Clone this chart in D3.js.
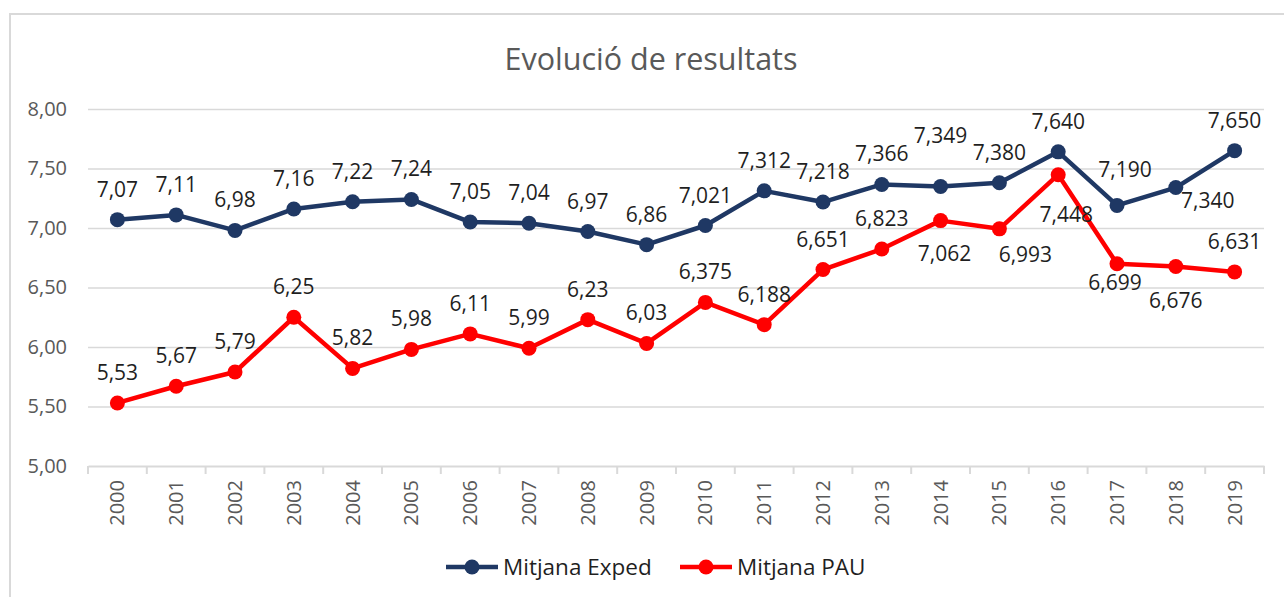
<!DOCTYPE html>
<html>
  <head>
    <meta charset="utf-8" />
    <title>Evolució de resultats</title>
    <script src="https://d3js.org/d3.v7.min.js"></script>
    <style>
      body { margin: 0; background: #fff; }
      svg { display: block; font-family: "Open Sans", sans-serif; }
    </style>
  </head>
  <body>
    <svg width="1284" height="597"></svg>
    <script>
      const years = ["2000","2001","2002","2003","2004","2005","2006","2007","2008","2009",
                     "2010","2011","2012","2013","2014","2015","2016","2017","2018","2019"];
      const exped = [7.07, 7.11, 6.98, 7.16, 7.22, 7.24, 7.05, 7.04, 6.97, 6.86,
                     7.021, 7.312, 7.218, 7.366, 7.349, 7.380, 7.640, 7.190, 7.340, 7.650];
      const pau = [5.53, 5.67, 5.79, 6.25, 5.82, 5.98, 6.11, 5.99, 6.23, 6.03,
                   6.375, 6.188, 6.651, 6.823, 7.062, 6.993, 7.448, 6.699, 6.676, 6.631];
      const yTicks = [5, 5.5, 6, 6.5, 7, 7.5, 8];

      const series = [
        { name: "Mitjana Exped", key: "exped", values: exped, color: "#1f3864" },
        { name: "Mitjana PAU", key: "pau", values: pau, color: "#ff0000" }
      ];

      // label offsets where the default "above" spot was moved
      const labelNudge = {
        "exped-2014": [0, -43],
        "exped-2017": [8, -28],
        "exped-2018": [32, 20],
        "pau-2014": [4, 40],
        "pau-2015": [26, 33],
        "pau-2016": [8, 47],
        "pau-2017": [-2, 26],
        "pau-2018": [0, 41]
      };

      const svg = d3.select("svg");
      const comma = s => s.replace(".", ",");

      // outer frame
      svg.append("rect")
        .attr("x", 10).attr("y", 14)
        .attr("width", 1300).attr("height", 620)
        .attr("fill", "none").attr("stroke", "#d9d9d9").attr("stroke-width", 2);

      const x = d3.scaleBand().domain(years).range([88, 1264]).padding(0);
      const y = d3.scaleLinear().domain([5, 8]).range([466, 109]);
      const cx = d => x(d) + x.bandwidth() / 2;

      // title
      svg.append("text")
        .attr("x", 651).attr("y", 70)
        .attr("text-anchor", "middle")
        .attr("font-size", 30.5)
        .attr("fill", "#595959")
        .text("Evolució de resultats");

      // grid
      const grid = svg.append("g").attr("transform", "translate(88,0)")
        .call(d3.axisLeft(y).tickValues(yTicks.filter(v => v > 5)).tickSize(-1176).tickFormat(""));
      grid.select(".domain").remove();
      grid.selectAll("line").attr("stroke", "#d9d9d9").attr("stroke-width", 1.5);

      // y axis labels
      const yAxis = svg.append("g").attr("transform", "translate(88,0)")
        .call(d3.axisLeft(y).tickValues(yTicks).tickSize(0).tickPadding(21)
          .tickFormat(d => comma(d3.format(".2f")(d))));
      yAxis.select(".domain").remove();
      yAxis.selectAll("text").attr("font-size", 20).attr("fill", "#595959")
        .attr("font-family", "Open Sans");

      // x axis
      const xAxis = svg.append("g").attr("transform", "translate(0,466)")
        .call(d3.axisBottom(x).tickSize(0).tickPadding(0));
      xAxis.select(".domain").attr("stroke", "#d9d9d9").attr("stroke-width", 2);
      xAxis.selectAll("text")
        .attr("font-size", 20).attr("fill", "#595959").attr("font-family", "Open Sans")
        .attr("transform", "rotate(-90)")
        .attr("text-anchor", "end")
        .attr("x", -14).attr("y", 0).attr("dy", "0.35em");
      svg.append("g").selectAll("line")
        .data(years.map(d => x(d)).concat([x.range()[1]]))
        .join("line")
        .attr("x1", d => d).attr("x2", d => d)
        .attr("y1", 466).attr("y2", 474)
        .attr("stroke", "#d9d9d9").attr("stroke-width", 2);

      // lines and markers
      const line = d3.line().x(d => cx(d.year)).y(d => y(d.value));
      series.forEach(s => {
        const pts = years.map((yr, i) => ({ year: yr, value: s.values[i] }));
        svg.append("path").datum(pts)
          .attr("d", line)
          .attr("fill", "none")
          .attr("stroke", s.color)
          .attr("stroke-width", 4.5)
          .attr("stroke-linejoin", "round");
        svg.append("g").selectAll("circle").data(pts).join("circle")
          .attr("cx", d => cx(d.year)).attr("cy", d => y(d.value))
          .attr("r", 7.5).attr("fill", s.color);
      });

      // data labels
      series.forEach(s => {
        const pts = years.map((yr, i) => ({ year: yr, value: s.values[i] }));
        svg.append("g").selectAll("text").data(pts).join("text")
          .attr("x", d => cx(d.year) + (labelNudge[s.key + "-" + d.year] || [0, -23])[0])
          .attr("y", d => y(d.value) + (labelNudge[s.key + "-" + d.year] || [0, -23])[1])
          .attr("text-anchor", "middle")
          .attr("font-size", 21)
          .attr("fill", "#1f1f1f")
          .text(d => comma(d.value.toFixed(+d.year >= 2010 ? 3 : 2)));
      });

      // legend
      const legend = svg.append("g");
      const legendPos = [446, 680];
      series.forEach((s, i) => {
        const g = legend.append("g").attr("transform", `translate(${legendPos[i]},567)`);
        g.append("line").attr("x1", 0).attr("x2", 52)
          .attr("stroke", s.color).attr("stroke-width", 4.5);
        g.append("circle").attr("cx", 26).attr("r", 7.5).attr("fill", s.color);
        g.append("text").attr("x", 57).attr("dy", "0.35em")
          .attr("font-size", 22.5).attr("fill", "#1f1f1f")
          .text(s.name);
      });
    </script>
  </body>
</html>
